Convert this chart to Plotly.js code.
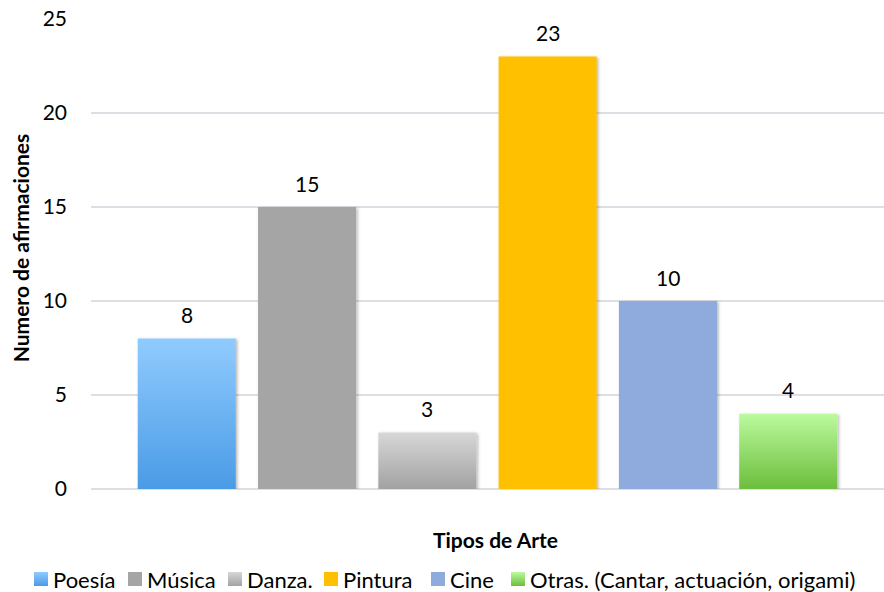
<!DOCTYPE html>
<html><head><meta charset="utf-8">
<script src="https://cdn.plot.ly/plotly-3.0.1.min.js"></script>
<style>html,body{margin:0;padding:0;background:#fff}</style>
</head><body><div id="chart" style="width:884px;height:592px"></div>
<script>
const categories = ["Poesía", "Música", "Danza.", "Pintura", "Cine", "Otras. (Cantar, actuación, origami)"];
const values = [8, 15, 3, 23, 10, 4];
const topColors = ["#90CBFE", "#A5A5A5", "#D7D7D7", "#FFC000", "#8FAADC", "#BBFA9E"];
const bottomColors = ["#4A9BE6", "#A5A5A5", "#A2A2A2", "#FFC000", "#8FAADC", "#6CBE3C"];
const yTicks = [0, 5, 10, 15, 20, 25];
const xTitle = "Tipos de Arte";
const yTitle = "Numero de afirmaciones";

const FONT = "Lato, 'Open Sans', sans-serif";
const FS = 21, LFS = 22;
const traces = categories.map((c, i) => ({
  type: 'bar', name: c, x: [c], y: [values[i]],
  marker: {color: topColors[i], line: {width: 0}},
  hoverinfo: 'skip'
}));
const pad = 0.296;
const layout = {
  width: 884, height: 592,
  margin: {l: 91, r: 0, t: 19, b: 103},
  paper_bgcolor: '#fff', plot_bgcolor: '#fff',
  font: {family: FONT, size: FS, color: '#000'},
  barmode: 'overlay', bargap: 0.185,
  showlegend: true,
  legend: {orientation: 'h', x: 0.5, xanchor: 'center', yref: 'container', y: 0.02, yanchor: 'middle',
           font: {size: LFS, family: FONT}, itemwidth: 30, traceorder: 'normal', bgcolor: 'rgba(0,0,0,0)', borderwidth: 0},
  xaxis: {type: 'category', range: [-0.5 - pad, categories.length - 0.5 + pad], showticklabels: false,
          showgrid: false, zeroline: false, showline: false, ticks: '',
          title: {text: '<b>' + xTitle + '</b>', font: {size: FS, family: FONT}}, automargin: false},
  yaxis: {range: [0, 25], tickvals: yTicks, ticktext: yTicks.map(String), showgrid: true, gridcolor: '#DCDFE4', gridwidth: 1.5,
          zeroline: true, zerolinecolor: '#DCDFE4', zerolinewidth: 1.5, showline: false, ticks: '', ticklabelstandoff: 23,
          tickfont: {size: FS, family: FONT},
          title: {text: '<b>' + yTitle + '</b>', font: {size: FS, family: FONT}}, automargin: false},
  annotations: categories.map((c, i) => ({x: c, y: values[i], xref: 'x', yref: 'y', text: String(values[i]),
          showarrow: false, yanchor: 'middle', yshift: 24, font: {size: FS, family: FONT}}))
};
// layout-only adjustments (target centres of the axis-title boxes, legend row)
const legendStart = [34, 128, 228, 324, 431, 511];
const legendY = 579, swatch = 14, swatchGap = 5;
const xTitleCenter = [495.5, 539], yTitleCenter = [20, 248];

Plotly.newPlot('chart', traces, layout, {staticPlot: true, displayModeBar: false}).then(gd => {
  const NS = 'http://www.w3.org/2000/svg';
  const svg = gd.querySelector('svg.main-svg');
  const defs = svg.querySelector('defs');
  categories.forEach((c, i) => {
    const g = document.createElementNS(NS, 'linearGradient');
    g.setAttribute('id', 'grad' + i);
    g.setAttribute('x1', '0'); g.setAttribute('y1', '0'); g.setAttribute('x2', '0'); g.setAttribute('y2', '1');
    [[0, topColors[i]], [1, bottomColors[i]]].forEach(([o, col]) => {
      const s = document.createElementNS(NS, 'stop');
      s.setAttribute('offset', o); s.setAttribute('stop-color', col);
      g.appendChild(s);
    });
    defs.appendChild(g);
  });
  const f = document.createElementNS(NS, 'filter');
  f.setAttribute('id', 'barshadow');
  f.setAttribute('x', '-10%'); f.setAttribute('y', '-10%'); f.setAttribute('width', '130%'); f.setAttribute('height', '130%');
  const ds = document.createElementNS(NS, 'feDropShadow');
  ds.setAttribute('dx', '1.5'); ds.setAttribute('dy', '1'); ds.setAttribute('stdDeviation', '1.5');
  ds.setAttribute('flood-color', '#000'); ds.setAttribute('flood-opacity', '0.3');
  f.appendChild(ds); defs.appendChild(f);
  gd.querySelectorAll('.barlayer .trace.bars').forEach((t, i) => {
    t.querySelectorAll('path').forEach(p => {
      p.style.fill = 'url(#grad' + i + ')';
      p.setAttribute('filter', 'url(#barshadow)');
    });
  });
  // axis title fine positioning
  const svgRect = svg.getBoundingClientRect();
  const centerTo = (el, c) => {
    if (!el) return;
    const r = el.getBoundingClientRect();
    const dx = c[0] - (r.left - svgRect.left + r.width / 2);
    const dy = c[1] - (r.top - svgRect.top + r.height / 2);
    const tr = el.getAttribute('transform') || '';
    el.setAttribute('transform', 'translate(' + dx + ',' + dy + ') ' + tr);
  };
  centerTo(gd.querySelector('text.xtitle'), xTitleCenter);
  centerTo(gd.querySelector('text.ytitle'), yTitleCenter);
  // lay the legend out in a single row
  const leg = gd.querySelector('.legend');
  leg.setAttribute('transform', 'translate(0,0)');
  leg.querySelectorAll('.scrollbox').forEach(s => { s.removeAttribute('clip-path'); s.setAttribute('transform', 'translate(0,0)'); });
  leg.querySelectorAll('.groups').forEach(s => s.setAttribute('transform', 'translate(0,0)'));
  leg.querySelectorAll('.scrollbar').forEach(s => s.remove());
  let prevEnd = -Infinity;
  leg.querySelectorAll('.traces').forEach((t, i) => {
    const txt = t.querySelector('text.legendtext');
    const w = txt.getComputedTextLength();
    const x = Math.max(legendStart[i], prevEnd + 9);
    t.setAttribute('transform', 'translate(' + x + ',' + legendY + ')');
    txt.setAttribute('x', swatch + swatchGap);
    t.querySelectorAll('.legendpoints path').forEach(p => {
      const h = swatch / 2;
      p.setAttribute('d', 'M' + h + ',' + h + 'H-' + h + 'V-' + h + 'H' + h + 'Z');
      p.setAttribute('transform', 'translate(' + h + ',0)');
      p.style.fill = 'url(#grad' + i + ')';
      p.style.stroke = 'none';
    });
    prevEnd = x + swatch + swatchGap + w;
  });
});
</script></body></html>
